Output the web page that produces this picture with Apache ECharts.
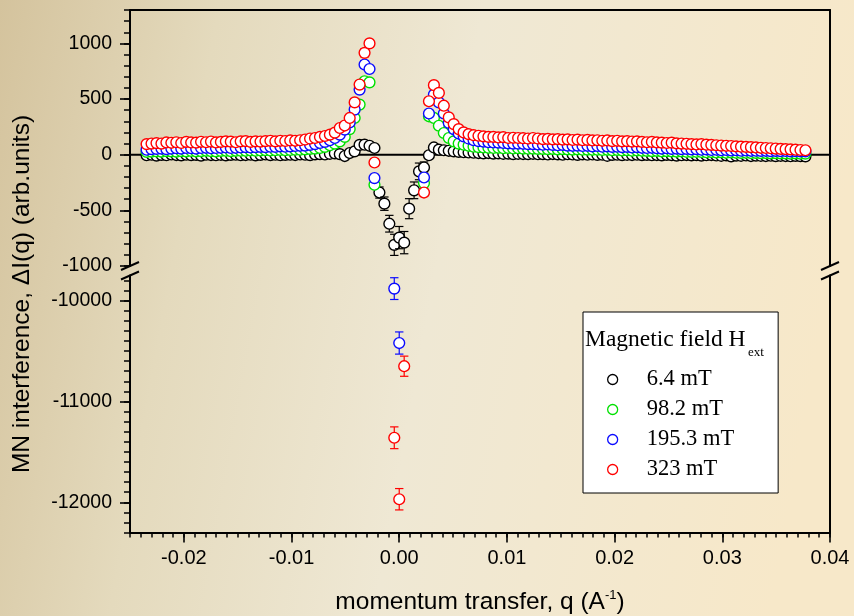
<!DOCTYPE html>
<html>
<head>
<meta charset="utf-8">
<script src="https://cdn.jsdelivr.net/npm/echarts@6/dist/echarts.min.js"></script>
<style>
  html, body { margin: 0; padding: 0; }
  #chart { width: 854px; height: 616px; }
</style>
</head>
<body>
<div id="chart"></div>
<script>
// momentum transfer q (1/A), shared by all field values
const q = [
  -0.02346, -0.02300, -0.02254, -0.02208, -0.02162, -0.02116, -0.02070, -0.02024, -0.01978, -0.01932,
  -0.01886, -0.01840, -0.01794, -0.01748, -0.01702, -0.01656, -0.01610, -0.01564, -0.01518, -0.01472,
  -0.01426, -0.01380, -0.01334, -0.01288, -0.01242, -0.01196, -0.01150, -0.01104, -0.01058, -0.01012,
  -0.00966, -0.00920, -0.00874, -0.00828, -0.00782, -0.00736, -0.00690, -0.00644, -0.00598, -0.00552,
  -0.00506, -0.00460, -0.00414, -0.00368, -0.00322, -0.00276, -0.00230, -0.00184, -0.00138, -0.00092,
  -0.00046, 0.00000, 0.00046, 0.00092, 0.00138, 0.00184, 0.00230, 0.00276, 0.00322, 0.00368,
  0.00414, 0.00460, 0.00506, 0.00552, 0.00598, 0.00644, 0.00690, 0.00736, 0.00782, 0.00828,
  0.00874, 0.00920, 0.00966, 0.01012, 0.01058, 0.01104, 0.01150, 0.01196, 0.01242, 0.01288,
  0.01334, 0.01380, 0.01426, 0.01472, 0.01518, 0.01564, 0.01610, 0.01656, 0.01702, 0.01748,
  0.01794, 0.01840, 0.01886, 0.01932, 0.01978, 0.02024, 0.02070, 0.02116, 0.02162, 0.02208,
  0.02254, 0.02300, 0.02346, 0.02392, 0.02438, 0.02484, 0.02530, 0.02576, 0.02622, 0.02668,
  0.02714, 0.02760, 0.02806, 0.02852, 0.02898, 0.02944, 0.02990, 0.03036, 0.03082, 0.03128,
  0.03174, 0.03220, 0.03266, 0.03312, 0.03358, 0.03404, 0.03450, 0.03496, 0.03542, 0.03588,
  0.03634, 0.03680, 0.03726, 0.03772
];

// Delta I(q) at 6.4 mT and its uncertainty
const dI_6p4 = [
  -5, 0, -8, -2, -5, 2, -3, -6, 0, -4,
  -2, -8, 0, -3, -5, -1, -6, -2, 0, -5,
  -3, 0, -6, -2, 2, -4, 0, -5, -2, 0,
  -3, 2, 0, -4, 3, 5, 2, 8, 12, 5,
  -12, 15, 30, 88, 90, 80, 60, -340, -440, -620,
  -810, -745, -790, -485, -320, -150, -115, -5, 65, 45,
  40, 35, 30, 25, 22, 20, 18, 15, 12, 15,
  10, 12, 8, 10, 5, 8, 6, 5, 8, 4,
  5, 2, 6, 3, 0, 4, 2, -2, 3, 0,
  2, -2, 0, -10, -2, 0, -4, -1, -3, 0,
  -4, -2, -5, -3, -6, -2, -4, -8, -5, -3,
  -6, -4, -8, -5, -3, -7, -10, -6, -15, -8,
  -10, -7, -12, -8, -10, -12, -9, -13, -10, -12,
  -14, -11, -13, -15
];
const sd_6p4 = [
  13, 12, 13, 12, 13, 12, 13, 12, 13, 12,
  13, 12, 13, 12, 13, 12, 13, 12, 13, 12,
  13, 12, 13, 12, 13, 12, 13, 12, 13, 12,
  13, 12, 13, 12, 13, 14, 14, 15, 16, 16,
  18, 18, 20, 22, 24, 24, 26, 50, 60, 75,
  95, 100, 100, 90, 75, 75, 50, 30, 25, 22,
  20, 18, 17, 16, 15, 15, 14, 14, 14, 13,
  13, 12, 13, 12, 13, 12, 13, 12, 13, 12,
  13, 12, 13, 12, 13, 12, 13, 12, 13, 12,
  13, 12, 13, 12, 13, 12, 13, 12, 13, 12,
  13, 12, 13, 12, 13, 12, 13, 12, 13, 12,
  13, 12, 13, 12, 13, 12, 13, 12, 13, 12,
  13, 12, 13, 12, 13, 12, 13, 12, 13, 12,
  13, 12, 13, 12
];

// Delta I(q) at 98.2 mT
const dI_98p2 = [
  25, 28, 30, 28, 32, 30, 28, 32, 30, 33,
  30, 32, 35, 32, 30, 34, 35, 32, 35, 36,
  35, 38, 36, 38, 40, 38, 40, 42, 40, 42,
  45, 45, 48, 52, 55, 60, 70, 85, 100, 120,
  160, 230, 330, 450, 660, 650, -270, null, null, null,
  null, null, null, null, null, null, -255, 345, 330, 260,
  195, 150, 120, 100, 90, 80, 72, 68, 65, 62,
  60, 62, 58, 60, 56, 58, 55, 54, 55, 52,
  52, 50, 52, 48, 50, 48, 46, 48, 45, 46,
  44, 45, 42, 44, 40, 42, 38, 40, 36, 38,
  35, 34, 32, 34, 30, 32, 30, 28, 30, 26,
  25, 26, 24, 22, 24, 20, 22, 18, 20, 18,
  16, 18, 15, 16, 14, 15, 12, 14, 12, 12,
  10, 12, 10, 10
];
const sd_98p2 = [
  11, 10, 11, 10, 11, 10, 11, 10, 11, 10,
  11, 10, 11, 10, 11, 10, 11, 10, 11, 10,
  11, 10, 11, 10, 11, 10, 11, 10, 11, 10,
  11, 11, 12, 12, 12, 13, 14, 15, 16, 18,
  20, 22, 25, 28, 32, 30, 30, null, null, null,
  null, null, null, null, null, null, 30, 28, 26, 24,
  20, 18, 16, 15, 14, 13, 13, 12, 12, 12,
  11, 10, 11, 10, 11, 10, 11, 10, 11, 10,
  11, 10, 11, 10, 11, 10, 11, 10, 11, 10,
  11, 10, 11, 10, 11, 10, 11, 10, 11, 10,
  11, 10, 11, 10, 11, 10, 11, 10, 11, 10,
  11, 10, 11, 10, 11, 10, 11, 10, 11, 10,
  11, 10, 11, 10, 11, 10, 11, 10, 11, 10,
  11, 10, 11, 10
];

// Delta I(q) at 195.3 mT
const dI_195p3 = [
  45, 50, 52, 55, 50, 55, 58, 55, 60, 58,
  55, 60, 62, 58, 60, 62, 65, 60, 62, 65,
  68, 65, 68, 70, 68, 72, 70, 75, 72, 75,
  78, 80, 82, 88, 95, 105, 115, 130, 150, 180,
  225, 290, 405, 585, 810, 770, -210, null, null, null,
  -9880, -10420, null, null, null, null, -205, 370, 540, 470,
  370, 285, 230, 190, 165, 145, 130, 122, 118, 112,
  110, 108, 105, 102, 100, 100, 98, 95, 95, 92,
  90, 92, 88, 85, 88, 82, 80, 82, 78, 80,
  75, 78, 72, 75, 70, 72, 68, 70, 65, 68,
  62, 60, 62, 58, 55, 58, 52, 55, 50, 52,
  48, 50, 45, 48, 42, 45, 40, 42, 38, 40,
  36, 38, 35, 36, 34, 35, 32, 34, 32, 33,
  30, 32, 30, 30
];
const sd_195p3 = [
  12, 11, 12, 11, 12, 11, 12, 11, 12, 11,
  12, 11, 12, 11, 12, 11, 12, 11, 12, 11,
  12, 11, 12, 11, 12, 11, 12, 11, 12, 12,
  12, 12, 13, 13, 14, 14, 15, 16, 17, 19,
  21, 23, 26, 30, 34, 30, 30, null, null, null,
  108, 110, null, null, null, null, 32, 30, 28, 26,
  22, 20, 18, 16, 15, 14, 14, 13, 13, 13,
  12, 11, 12, 11, 12, 11, 12, 11, 12, 11,
  12, 11, 12, 11, 12, 11, 12, 11, 12, 11,
  12, 11, 12, 11, 12, 11, 12, 11, 12, 11,
  12, 11, 12, 11, 12, 11, 12, 11, 12, 11,
  12, 11, 12, 11, 12, 11, 12, 11, 12, 11,
  12, 11, 12, 11, 12, 11, 12, 11, 12, 11,
  12, 11, 12, 11
];

// Delta I(q) at 323 mT
const dI_323 = [
  95, 100, 104, 100, 110, 107, 112, 105, 115, 110,
  108, 116, 112, 118, 110, 115, 120, 117, 112, 120,
  122, 115, 120, 118, 122, 125, 120, 125, 123, 128,
  125, 130, 136, 145, 150, 160, 168, 180, 198, 240,
  262, 330, 470, 630, 915, 1000, -70, null, null, null,
  -11360, -11970, -10650, null, null, null, -340, 480, 625, 555,
  440, 335, 275, 230, 200, 185, 175, 170, 165, 160,
  160, 155, 158, 150, 152, 150, 148, 145, 150, 145,
  140, 142, 138, 140, 135, 138, 132, 135, 130, 133,
  128, 130, 125, 128, 122, 125, 120, 122, 118, 120,
  115, 112, 115, 110, 108, 105, 108, 102, 100, 98,
  95, 92, 95, 90, 88, 85, 82, 80, 78, 75,
  72, 70, 68, 65, 62, 60, 58, 55, 52, 50,
  48, 45, 42, 40
];
const sd_323 = [
  14, 12, 13, 12, 14, 12, 13, 12, 14, 12,
  13, 12, 14, 12, 13, 12, 14, 12, 13, 12,
  13, 12, 14, 12, 13, 12, 14, 12, 13, 14,
  13, 14, 14, 15, 15, 16, 16, 18, 18, 20,
  22, 24, 28, 32, 36, 30, 32, null, null, null,
  108, 106, 100, null, null, null, 36, 32, 30, 28,
  24, 22, 20, 18, 17, 16, 16, 15, 15, 14,
  14, 14, 14, 13, 13, 13, 13, 12, 13, 12,
  12, 12, 12, 12, 12, 12, 12, 12, 12, 12,
  12, 12, 12, 12, 12, 12, 12, 12, 12, 12,
  12, 12, 12, 11, 12, 11, 12, 11, 11, 11,
  11, 11, 11, 11, 11, 11, 11, 11, 11, 11,
  11, 11, 11, 11, 11, 11, 11, 11, 11, 11,
  11, 11, 11, 11
];

// axis extents and tick labels
const X_MIN = -0.025, X_MAX = 0.04;
const xMajorTicks = [-0.02, -0.01, 0, 0.01, 0.02, 0.03, 0.04];
const UPPER_MIN = -1000, UPPER_MAX = 1300;
const LOWER_MIN = -12300, LOWER_MAX = -9750;
const upperMajorTicks = [-1000, -500, 0, 500, 1000];
const lowerMajorTicks = [-12000, -11000, -10000];

function stepTicks(lo, hi, step) {
  const out = [];
  const n = Math.round((hi - lo) / step);
  for (let i = 0; i <= n; i++) out.push(+(lo + i * step).toFixed(6));
  return out;
}
const xMinorTicks = stepTicks(X_MIN, X_MAX, 0.001);
const upperMinorTicks = stepTicks(UPPER_MIN, UPPER_MAX, 100);
const lowerMinorTicks = stepTicks(-12300, -9800, 100);

const fields = [
  { name: '6.4 mT',   color: '#000000', vals: dI_6p4,   errs: sd_6p4 },
  { name: '98.2 mT',  color: '#00e000', vals: dI_98p2,  errs: sd_98p2 },
  { name: '195.3 mT', color: '#0a0aff', vals: dI_195p3, errs: sd_195p3 },
  { name: '323 mT',   color: '#ff0000', vals: dI_323,   errs: sd_323 }
];

const SANS = '"Liberation Sans", Arial, sans-serif';
const SERIF = '"Liberation Serif", "Times New Roman", serif';

const chart = echarts.init(document.getElementById('chart'), null, { renderer: 'canvas' });

const PLOT_LEFT = 130, PLOT_RIGHT = 24;
const grids = [
  { left: PLOT_LEFT, right: PLOT_RIGHT, top: 10, height: 256 },      // upper panel
  { left: PLOT_LEFT, right: PLOT_RIGHT, top: 275.5, height: 257 },   // lower panel
  { left: PLOT_LEFT, right: PLOT_RIGHT, top: 10, height: 256 },      // minor ticks, upper
  { left: PLOT_LEFT, right: PLOT_RIGHT, top: 275.5, height: 257 }    // minor ticks, lower
];

const black = '#000';
const lineStyle = { color: black, width: 2 };
const noSplit = { show: false };
const plainNumber = v => String(v);

function markerWithError(color) {
  return function (params, api) {
    const x = api.value(0), v = api.value(1), e = api.value(2);
    const c = api.coord([x, v]);
    const t = api.coord([x, v + e]);
    const b = api.coord([x, v - e]);
    const w = 4.2;
    const st = () => ({ stroke: color, lineWidth: 1.2 });
    return {
      type: 'group',
      children: [
        { type: 'line', shape: { x1: c[0], y1: t[1], x2: c[0], y2: b[1] }, style: st() },
        { type: 'line', shape: { x1: c[0] - w, y1: t[1], x2: c[0] + w, y2: t[1] }, style: st() },
        { type: 'line', shape: { x1: c[0] - w, y1: b[1], x2: c[0] + w, y2: b[1] }, style: st() },
        { type: 'circle', shape: { cx: c[0], cy: c[1], r: 5.4 },
          style: { fill: '#ffffff', stroke: color, lineWidth: 1.4 } }
      ]
    };
  };
}

const panels = [
  { xAxisIndex: 0, yAxisIndex: 0, lo: UPPER_MIN, hi: UPPER_MAX },
  { xAxisIndex: 1, yAxisIndex: 2, lo: LOWER_MIN, hi: LOWER_MAX }
];

const series = [];
// zero line of the upper panel
series.push({
  type: 'custom', name: 'zero', xAxisIndex: 0, yAxisIndex: 0, silent: true, z: 1,
  data: [[0, 0]],
  renderItem: function (params, api) {
    const cs = params.coordSys;
    const y = api.coord([0, 0])[1];
    return { type: 'line', shape: { x1: cs.x, y1: y, x2: cs.x + cs.width, y2: y },
             style: { stroke: black, lineWidth: 2 } };
  }
});
fields.forEach((f, fi) => {
  panels.forEach(p => {
    const pts = [];
    q.forEach((x, i) => {
      const v = f.vals[i];
      if (v === null || v === undefined) return;
      if (v < p.lo || v > p.hi) return;
      pts.push([x, v, f.errs[i]]);
    });
    series.push({
      type: 'custom', name: f.name, xAxisIndex: p.xAxisIndex, yAxisIndex: p.yAxisIndex,
      z: 2 + fi, silent: true, clip: false,
      encode: { x: 0, y: 1 },
      data: pts,
      renderItem: markerWithError(f.color)
    });
  });
});

const option = {
  animation: false,
  backgroundColor: new echarts.graphic.LinearGradient(0, 0, 1, 0.25, [
    { offset: 0, color: '#d4c39d' },
    { offset: 0.25, color: '#e4dabd' },
    { offset: 0.55, color: '#efe8d4' },
    { offset: 1, color: '#f7e8c9' }
  ]),
  grid: grids,
  xAxis: [
    { gridIndex: 0, type: 'value', min: X_MIN, max: X_MAX, position: 'top',
      axisLine: { show: true, onZero: false, lineStyle: lineStyle },
      axisTick: { show: false }, axisLabel: { show: false }, splitLine: noSplit },
    { gridIndex: 1, type: 'value', min: X_MIN, max: X_MAX, position: 'bottom',
      axisLine: { show: true, onZero: false, lineStyle: lineStyle },
      axisTick: { show: true, length: 10, customValues: xMajorTicks, lineStyle: { color: black, width: 1.6 } },
      axisLabel: { show: true, customValues: xMajorTicks, margin: 16, color: black,
        fontFamily: SANS, fontSize: 20, formatter: v => v.toFixed(2) },
      splitLine: noSplit },
    { gridIndex: 2, type: 'value', min: X_MIN, max: X_MAX, show: false,
      axisLine: { onZero: false } },
    { gridIndex: 3, type: 'value', min: X_MIN, max: X_MAX, position: 'bottom',
      axisLine: { show: false, onZero: false },
      axisTick: { show: true, length: 5, customValues: xMinorTicks, lineStyle: { color: black, width: 1.5 } },
      axisLabel: { show: false }, splitLine: noSplit }
  ],
  yAxis: [
    { gridIndex: 0, type: 'value', min: UPPER_MIN, max: UPPER_MAX, position: 'left',
      axisLine: { show: true, onZero: false, lineStyle: lineStyle },
      axisTick: { show: true, length: 10, customValues: upperMajorTicks, lineStyle: { color: black, width: 1.6 } },
      axisLabel: { show: true, customValues: upperMajorTicks, margin: 18, color: black,
        fontFamily: SANS, fontSize: 19.5, formatter: plainNumber },
      splitLine: noSplit },
    { gridIndex: 0, type: 'value', min: UPPER_MIN, max: UPPER_MAX, position: 'right',
      axisLine: { show: true, onZero: false, lineStyle: lineStyle },
      axisTick: { show: false }, axisLabel: { show: false }, splitLine: noSplit },
    { gridIndex: 1, type: 'value', min: LOWER_MIN, max: LOWER_MAX, position: 'left',
      axisLine: { show: true, onZero: false, lineStyle: lineStyle },
      axisTick: { show: true, length: 10, customValues: lowerMajorTicks, lineStyle: { color: black, width: 1.6 } },
      axisLabel: { show: true, customValues: lowerMajorTicks, margin: 18, color: black,
        fontFamily: SANS, fontSize: 19.5, formatter: plainNumber },
      splitLine: noSplit },
    { gridIndex: 1, type: 'value', min: LOWER_MIN, max: LOWER_MAX, position: 'right',
      axisLine: { show: true, onZero: false, lineStyle: lineStyle },
      axisTick: { show: false }, axisLabel: { show: false }, splitLine: noSplit },
    { gridIndex: 2, type: 'value', min: UPPER_MIN, max: UPPER_MAX, position: 'left',
      axisLine: { show: false, onZero: false },
      axisTick: { show: true, length: 6, customValues: upperMinorTicks, lineStyle: { color: black, width: 1.5 } },
      axisLabel: { show: false }, splitLine: noSplit },
    { gridIndex: 3, type: 'value', min: LOWER_MIN, max: LOWER_MAX, position: 'left',
      axisLine: { show: false, onZero: false },
      axisTick: { show: true, length: 6, customValues: lowerMinorTicks, lineStyle: { color: black, width: 1.5 } },
      axisLabel: { show: false }, splitLine: noSplit }
  ],
  legend: {
    left: 583, top: 312, orient: 'vertical',
    backgroundColor: '#ffffff', borderColor: black, borderWidth: 1,
    padding: [56, 44, 12, 24],
    itemWidth: 10, itemHeight: 10, itemGap: 7,
    selectedMode: false,
    textStyle: { fontFamily: SERIF, fontSize: 22.5, color: black, padding: [0, 0, 0, 24] },
    data: fields.map(f => ({ name: f.name, icon: 'circle',
      itemStyle: { color: '#ffffff', borderColor: f.color, borderWidth: 1.3 } }))
  },
  series: series
};
chart.setOption(option);

// titles and axis-break marks, placed from the grids' pixel geometry
function buildGraphics() {
  const upBL = chart.convertToPixel({ gridIndex: 0 }, [X_MIN, UPPER_MIN]);
  const upBR = chart.convertToPixel({ gridIndex: 0 }, [X_MAX, UPPER_MIN]);
  const loTL = chart.convertToPixel({ gridIndex: 1 }, [X_MIN, LOWER_MAX]);
  const loTR = chart.convertToPixel({ gridIndex: 1 }, [X_MAX, LOWER_MAX]);
  const plotBottom = chart.convertToPixel({ gridIndex: 1 }, [X_MIN, LOWER_MIN])[1];
  const midX = (upBL[0] + upBR[0]) / 2;

  const breakMark = (x, y) => ({
    type: 'line', z: 100,
    shape: { x1: x - 9, y1: y + 4, x2: x + 9, y2: y - 4 },
    style: { stroke: black, lineWidth: 2 }
  });

  return [
    breakMark(upBL[0], upBL[1]), breakMark(loTL[0], loTL[1]),
    breakMark(upBR[0], upBR[1]), breakMark(loTR[0], loTR[1]),
    {
      type: 'text', x: 22, y: 294, rotation: Math.PI / 2, z: 100,
      style: {
        text: 'MN interference, ΔI(q) (arb.units)',
        fontFamily: SANS, fontSize: 24.5, fill: black,
        align: 'center', verticalAlign: 'middle',
        textAlign: 'center', textVerticalAlign: 'middle'
      }
    },
    {
      type: 'text', x: midX, y: plotBottom + 56, z: 100,
      style: {
        text: '{n|momentum transfer, q (A}{s|-1}{n|)}',
        align: 'center', verticalAlign: 'top', textAlign: 'center', textVerticalAlign: 'top',
        rich: {
          n: { fontFamily: SANS, fontSize: 24.5, fill: black, lineHeight: 28 },
          s: { fontFamily: SANS, fontSize: 13, fill: black, verticalAlign: 'top', lineHeight: 14 }
        }
      }
    },
    {
      type: 'text', x: 585, y: 340, z: 100,
      style: { text: 'Magnetic field H', fontFamily: SERIF, fontSize: 23.5, fill: black,
        align: 'left', verticalAlign: 'middle', textAlign: 'left', textVerticalAlign: 'middle' }
    },
    {
      type: 'text', x: 748, y: 353, z: 100,
      style: { text: 'ext', fontFamily: SERIF, fontSize: 13, fill: black,
        align: 'left', verticalAlign: 'middle', textAlign: 'left', textVerticalAlign: 'middle' }
    }
  ];
}
chart.setOption({ graphic: buildGraphics() });
</script>
</body>
</html>
